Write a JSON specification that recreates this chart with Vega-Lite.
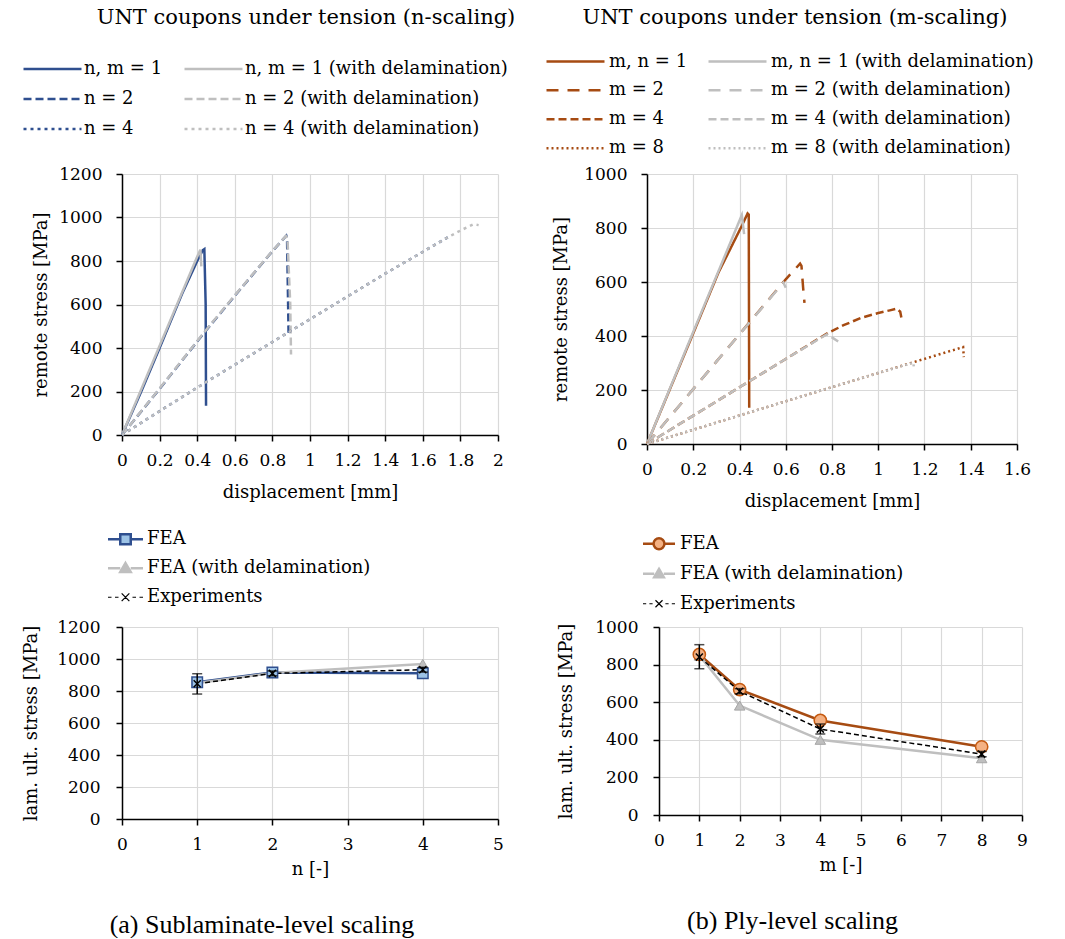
{
  "$schema": "https://vega.github.io/schema/vega-lite/v6.json",
  "padding": {"left": 22, "top": 7, "right": 5, "bottom": 0},
  "spacing": 15,
  "resolve": {"scale": {"color": "independent", "strokeDash": "independent"}, "legend": {"color": "independent", "strokeDash": "independent"}},
  "config": {
    "font": "DejaVu Serif",
    "view": {"stroke": null},
    "axis": {
      "labelFont": "DejaVu Serif", "labelFontSize": 17, "labelColor": "#000",
      "titleFont": "DejaVu Serif", "titleFontSize": 18, "titleFontWeight": "normal", "titleColor": "#000",
      "domainColor": "#000", "domainWidth": 1.5, "tickColor": "#000", "tickSize": 6, "tickWidth": 1.5,
      "gridColor": "#D9D9D9", "gridWidth": 1.2, "labelOverlap": false, "labelFlush": false
    },
    "legend": {"labelFont": "DejaVu Serif", "labelFontSize": 18, "labelColor": "#000", "labelLimit": 400},
    "title": {"font": "DejaVu Serif", "fontSize": 21, "fontWeight": "normal", "color": "#000"}
  },
  "datasets": {
    "nCurves": [
      {"series": "n, m = 1", "d": 0, "s": 0}, {"series": "n, m = 1", "d": 0.1, "s": 195}, {"series": "n, m = 1", "d": 0.2, "s": 400},
      {"series": "n, m = 1", "d": 0.32, "s": 650}, {"series": "n, m = 1", "d": 0.4, "s": 800}, {"series": "n, m = 1", "d": 0.43, "s": 850},
      {"series": "n, m = 1", "d": 0.438, "s": 855}, {"series": "n, m = 1", "d": 0.445, "s": 600}, {"series": "n, m = 1", "d": 0.447, "s": 135},
      {"series": "n, m = 1 (with delamination)", "d": 0, "s": 0}, {"series": "n, m = 1 (with delamination)", "d": 0.1, "s": 205},
      {"series": "n, m = 1 (with delamination)", "d": 0.2, "s": 410}, {"series": "n, m = 1 (with delamination)", "d": 0.3, "s": 615},
      {"series": "n, m = 1 (with delamination)", "d": 0.4, "s": 820}, {"series": "n, m = 1 (with delamination)", "d": 0.417, "s": 852},
      {"series": "n, m = 1 (with delamination)", "d": 0.422, "s": 775},
      {"series": "n = 2", "d": 0, "s": 0}, {"series": "n = 2", "d": 0.2, "s": 212}, {"series": "n = 2", "d": 0.447, "s": 481},
      {"series": "n = 2", "d": 0.6, "s": 640}, {"series": "n = 2", "d": 0.8, "s": 845}, {"series": "n = 2", "d": 0.874, "s": 916},
      {"series": "n = 2", "d": 0.878, "s": 905}, {"series": "n = 2", "d": 0.886, "s": 470},
      {"series": "n = 2 (with delamination)", "d": 0, "s": 0}, {"series": "n = 2 (with delamination)", "d": 0.2, "s": 214},
      {"series": "n = 2 (with delamination)", "d": 0.447, "s": 483}, {"series": "n = 2 (with delamination)", "d": 0.6, "s": 642},
      {"series": "n = 2 (with delamination)", "d": 0.8, "s": 846}, {"series": "n = 2 (with delamination)", "d": 0.872, "s": 915},
      {"series": "n = 2 (with delamination)", "d": 0.88, "s": 905}, {"series": "n = 2 (with delamination)", "d": 0.895, "s": 600},
      {"series": "n = 2 (with delamination)", "d": 0.899, "s": 370},
      {"series": "n = 4", "d": 0, "s": 0}, {"series": "n = 4", "d": 0.2, "s": 110}, {"series": "n = 4", "d": 0.447, "s": 243},
      {"series": "n = 4", "d": 0.887, "s": 473}, {"series": "n = 4", "d": 1.4, "s": 742}, {"series": "n = 4", "d": 1.738, "s": 911},
      {"series": "n = 4 (with delamination)", "d": 0, "s": 0}, {"series": "n = 4 (with delamination)", "d": 0.2, "s": 110},
      {"series": "n = 4 (with delamination)", "d": 0.447, "s": 243}, {"series": "n = 4 (with delamination)", "d": 0.887, "s": 473},
      {"series": "n = 4 (with delamination)", "d": 1.4, "s": 742}, {"series": "n = 4 (with delamination)", "d": 1.738, "s": 911},
      {"series": "n = 4 (with delamination)", "d": 1.8, "s": 940}, {"series": "n = 4 (with delamination)", "d": 1.87, "s": 969},
      {"series": "n = 4 (with delamination)", "d": 1.897, "s": 965}
    ],
    "mCurves": [
      {"series": "m, n = 1", "d": 0, "s": 0}, {"series": "m, n = 1", "d": 0.1, "s": 205}, {"series": "m, n = 1", "d": 0.2, "s": 410},
      {"series": "m, n = 1", "d": 0.309, "s": 635}, {"series": "m, n = 1", "d": 0.41, "s": 808}, {"series": "m, n = 1", "d": 0.435, "s": 854},
      {"series": "m, n = 1", "d": 0.44, "s": 850}, {"series": "m, n = 1", "d": 0.442, "s": 134},
      {"series": "m, n = 1 (with delamination)", "d": 0, "s": 0}, {"series": "m, n = 1 (with delamination)", "d": 0.2, "s": 415},
      {"series": "m, n = 1 (with delamination)", "d": 0.41, "s": 848}, {"series": "m, n = 1 (with delamination)", "d": 0.42, "s": 777},
      {"series": "m = 2", "d": 0, "s": 0}, {"series": "m = 2", "d": 0.3, "s": 305}, {"series": "m = 2", "d": 0.6, "s": 610},
      {"series": "m = 2", "d": 0.662, "s": 668}, {"series": "m = 2", "d": 0.668, "s": 660}, {"series": "m = 2", "d": 0.675, "s": 580},
      {"series": "m = 2", "d": 0.681, "s": 523},
      {"series": "m = 2 (with delamination)", "d": 0, "s": 0}, {"series": "m = 2 (with delamination)", "d": 0.3, "s": 305},
      {"series": "m = 2 (with delamination)", "d": 0.59, "s": 598}, {"series": "m = 2 (with delamination)", "d": 0.6, "s": 579},
      {"series": "m = 4", "d": 0, "s": 0}, {"series": "m = 4", "d": 0.2, "s": 105}, {"series": "m = 4", "d": 0.4, "s": 210},
      {"series": "m = 4", "d": 0.6, "s": 315}, {"series": "m = 4", "d": 0.784, "s": 412}, {"series": "m = 4", "d": 0.85, "s": 440},
      {"series": "m = 4", "d": 0.928, "s": 468}, {"series": "m = 4", "d": 1.0, "s": 485}, {"series": "m = 4", "d": 1.05, "s": 495},
      {"series": "m = 4", "d": 1.08, "s": 501}, {"series": "m = 4", "d": 1.095, "s": 490}, {"series": "m = 4", "d": 1.1, "s": 468},
      {"series": "m = 4 (with delamination)", "d": 0, "s": 0}, {"series": "m = 4 (with delamination)", "d": 0.2, "s": 105},
      {"series": "m = 4 (with delamination)", "d": 0.4, "s": 210}, {"series": "m = 4 (with delamination)", "d": 0.6, "s": 315},
      {"series": "m = 4 (with delamination)", "d": 0.777, "s": 406}, {"series": "m = 4 (with delamination)", "d": 0.8, "s": 395},
      {"series": "m = 4 (with delamination)", "d": 0.835, "s": 375},
      {"series": "m = 8", "d": 0, "s": 0}, {"series": "m = 8", "d": 0.5, "s": 132}, {"series": "m = 8", "d": 1.0, "s": 263},
      {"series": "m = 8", "d": 1.367, "s": 359}, {"series": "m = 8", "d": 1.37, "s": 322},
      {"series": "m = 8 (with delamination)", "d": 0, "s": 0}, {"series": "m = 8 (with delamination)", "d": 0.5, "s": 132},
      {"series": "m = 8 (with delamination)", "d": 1.0, "s": 263}, {"series": "m = 8 (with delamination)", "d": 1.151, "s": 301},
      {"series": "m = 8 (with delamination)", "d": 1.155, "s": 282}
    ],
    "nStrength": [
      {"k": 1, "series": "FEA", "v": 854}, {"k": 2, "series": "FEA", "v": 916}, {"k": 4, "series": "FEA", "v": 911},
      {"k": 1, "series": "FEA (with delamination)", "v": 850}, {"k": 2, "series": "FEA (with delamination)", "v": 912}, {"k": 4, "series": "FEA (with delamination)", "v": 969},
      {"k": 1, "series": "Experiments", "v": 845, "lo": 781, "hi": 908}, {"k": 2, "series": "Experiments", "v": 910, "lo": 895, "hi": 925},
      {"k": 4, "series": "Experiments", "v": 933, "lo": 918, "hi": 948}
    ],
    "mStrength": [
      {"k": 1, "series": "FEA", "v": 854}, {"k": 2, "series": "FEA", "v": 667}, {"k": 4, "series": "FEA", "v": 503}, {"k": 8, "series": "FEA", "v": 363},
      {"k": 1, "series": "FEA (with delamination)", "v": 848}, {"k": 2, "series": "FEA (with delamination)", "v": 582},
      {"k": 4, "series": "FEA (with delamination)", "v": 400}, {"k": 8, "series": "FEA (with delamination)", "v": 302},
      {"k": 1, "series": "Experiments", "v": 840, "lo": 778, "hi": 906}, {"k": 2, "series": "Experiments", "v": 658, "lo": 645, "hi": 672},
      {"k": 4, "series": "Experiments", "v": 457, "lo": 431, "hi": 484}, {"k": 8, "series": "Experiments", "v": 324, "lo": 310, "hi": 338}
    ]
  },
  "vconcat": [
    {
      "spacing": 29,
      "resolve": {"scale": {"color": "independent", "strokeDash": "independent"}, "legend": {"color": "independent", "strokeDash": "independent"}},
      "hconcat": [
        {
          "width": 376, "height": 261,
          "title": {"text": "UNT coupons under tension (n-scaling)", "anchor": "middle", "offset": 26, "dx": -4},
          "data": {"name": "nCurves"},
          "mark": {"type": "line", "strokeWidth": 2.5},
          "encoding": {
            "x": {"field": "d", "type": "quantitative", "scale": {"domain": [0, 2], "nice": false},
                  "axis": {"values": [0, 0.2, 0.4, 0.6, 0.8, 1, 1.2, 1.4, 1.6, 1.8, 2], "format": "~g", "title": "displacement [mm]", "labelPadding": 11, "titlePadding": 15}},
            "y": {"field": "s", "type": "quantitative", "scale": {"domain": [0, 1200], "nice": false},
                  "axis": {"values": [0, 200, 400, 600, 800, 1000, 1200], "format": "d", "title": "remote stress [MPa]", "labelPadding": 14, "titlePadding": 8}},
            "color": {"field": "series", "type": "nominal",
              "scale": {"domain": ["n, m = 1", "n = 2", "n = 4", "n, m = 1 (with delamination)", "n = 2 (with delamination)", "n = 4 (with delamination)"],
                        "range": ["#2F4F8F", "#2F4F8F", "#2F4F8F", "#BFBFBF", "#BFBFBF", "#BFBFBF"]},
              "legend": {"title": null, "orient": "none", "legendX": -100, "legendY": -120, "columns": 2, "symbolType": "stroke",
                         "symbolSize": 3364, "symbolStrokeWidth": 2.5, "clipHeight": 30, "rowPadding": 0, "columnPadding": 20, "labelOffset": 1}},
            "strokeDash": {"field": "series", "type": "nominal",
              "scale": {"domain": ["n, m = 1", "n = 2", "n = 4", "n, m = 1 (with delamination)", "n = 2 (with delamination)", "n = 4 (with delamination)"],
                        "range": [[1, 0], [8, 4], [3, 4], [1, 0], [8, 4], [3, 4]]},
              "legend": {"title": null, "orient": "none", "legendX": -100, "legendY": -120, "columns": 2, "symbolType": "stroke",
                         "symbolSize": 3364, "symbolStrokeWidth": 2.5, "clipHeight": 30, "rowPadding": 0, "columnPadding": 20, "labelOffset": 1}}
          }
        },
        {
          "width": 370, "height": 270,
          "title": {"text": "UNT coupons under tension (m-scaling)", "anchor": "middle", "offset": 19, "dx": -37},
          "data": {"name": "mCurves"},
          "mark": {"type": "line", "strokeWidth": 2.5},
          "encoding": {
            "x": {"field": "d", "type": "quantitative", "scale": {"domain": [0, 1.6], "nice": false},
                  "axis": {"values": [0, 0.2, 0.4, 0.6, 0.8, 1, 1.2, 1.4, 1.6], "format": "~g", "title": "displacement [mm]", "labelPadding": 11, "titlePadding": 15}},
            "y": {"field": "s", "type": "quantitative", "scale": {"domain": [0, 1000], "nice": false},
                  "axis": {"values": [0, 200, 400, 600, 800, 1000], "format": "d", "title": "remote stress [MPa]", "labelPadding": 14, "titlePadding": 13}},
            "color": {"field": "series", "type": "nominal",
              "scale": {"domain": ["m, n = 1", "m = 2", "m = 4", "m = 8", "m, n = 1 (with delamination)", "m = 2 (with delamination)", "m = 4 (with delamination)", "m = 8 (with delamination)"],
                        "range": ["#A64B12", "#A64B12", "#A64B12", "#A64B12", "#BFBFBF", "#BFBFBF", "#BFBFBF", "#BFBFBF"]},
              "legend": {"title": null, "orient": "none", "legendX": -102, "legendY": -127, "columns": 2, "symbolType": "stroke",
                         "symbolSize": 3364, "symbolStrokeWidth": 2.5, "clipHeight": 28.5, "rowPadding": 0, "columnPadding": 19, "labelOffset": 3}},
            "strokeDash": {"field": "series", "type": "nominal",
              "scale": {"domain": ["m, n = 1", "m = 2", "m = 4", "m = 8", "m, n = 1 (with delamination)", "m = 2 (with delamination)", "m = 4 (with delamination)", "m = 8 (with delamination)"],
                        "range": [[1, 0], [12, 9], [8, 4], [2, 3], [1, 0], [12, 9], [8, 4], [2, 3]]},
              "legend": {"title": null, "orient": "none", "legendX": -102, "legendY": -127, "columns": 2, "symbolType": "stroke",
                         "symbolSize": 3364, "symbolStrokeWidth": 2.5, "clipHeight": 28.5, "rowPadding": 0, "columnPadding": 19, "labelOffset": 3}}
          }
        }
      ]
    },
    {
      "spacing": 53,
      "resolve": {"scale": {"color": "independent"}, "legend": {"color": "independent"}},
      "hconcat": [
        {
          "width": 376, "height": 192,
          "title": {"text": "(a) Sublaminate-level scaling", "orient": "bottom", "anchor": "middle", "font": "Liberation Serif", "fontSize": 26, "offset": 34, "dx": -48},
          "data": {"name": "nStrength"},
          "layer": [
            {
              "transform": [{"filter": "datum.series !== 'Experiments'"}],
              "mark": {"type": "line", "strokeWidth": 2.5},
              "encoding": {
                "x": {"field": "k", "type": "quantitative", "scale": {"domain": [0, 5], "nice": false}, "axis": {"values": [0, 1, 2, 3, 4, 5], "format": "d", "title": "n [-]", "labelPadding": 11, "titlePadding": 8}},
                "y": {"field": "v", "type": "quantitative", "scale": {"domain": [0, 1200], "nice": false}, "axis": {"values": [0, 200, 400, 600, 800, 1000, 1200], "format": "d", "title": "lam. ult. stress [MPa]", "labelPadding": 16, "titlePadding": 16}},
                "color": {"field": "series", "type": "nominal",
                  "scale": {"domain": ["FEA", "FEA (with delamination)", "Experiments"], "range": ["#2F4F8F", "#BFBFBF", "#000000"]},
                  "legend": {"title": null, "orient": "none", "legendX": -14, "legendY": -102, "symbolSize": 1225, "symbolStrokeWidth": 2.5, "clipHeight": 28.5, "rowPadding": 0, "labelOffset": 4,
                    "encode": {
                      "symbols": {"update": {
                        "x": {"value": 17.5}, "size": {"value": 1225},
                        "shape": {"signal": "datum.value === 'FEA' ? 'M-1,0H-0.3M0.3,0H1M-0.3,-0.28H0.3V0.28H-0.3Z' : datum.value === 'Experiments' ? 'M-1,0H-0.8M-0.6,0H-0.4M-0.22,-0.22L0.22,0.22M0.22,-0.22L-0.22,0.22M0.4,0H0.6M0.8,0H1' : 'M-1,0H-0.3M0.3,0H1M0,-0.3L0.3,0.22H-0.3Z'"},
                        "fill": {"signal": "datum.value === 'FEA' ? '#9DC3E6' : datum.value === 'Experiments' ? 'transparent' : '#BFBFBF'"},
                        "strokeWidth": {"signal": "datum.value === 'Experiments' ? 1.2 : 2.5"}
                      }},
                      "labels": {"update": {"x": {"value": 39}}}
                    }}}
              }
            },
            {
              "transform": [{"filter": "datum.series === 'Experiments'"}],
              "mark": {"type": "line", "color": "#000", "strokeWidth": 1.5, "strokeDash": [5, 3]},
              "encoding": {"x": {"field": "k", "type": "quantitative", "axis": {"values": [0, 1, 2, 3, 4, 5], "format": "d", "title": "n [-]", "labelPadding": 11, "titlePadding": 8}},
                           "y": {"field": "v", "type": "quantitative", "axis": {"values": [0, 200, 400, 600, 800, 1000, 1200], "format": "d", "title": "lam. ult. stress [MPa]", "labelPadding": 16, "titlePadding": 16}}}
            },
            {
              "transform": [{"filter": "datum.series === 'FEA (with delamination)'"}],
              "mark": {"type": "point", "shape": "triangle-up", "filled": true, "fill": "#BFBFBF", "stroke": "#A6A6A6", "strokeWidth": 1, "size": 110, "opacity": 1},
              "encoding": {"x": {"field": "k", "type": "quantitative", "axis": {"values": [0, 1, 2, 3, 4, 5], "format": "d", "title": "n [-]", "labelPadding": 11, "titlePadding": 8}},
                           "y": {"field": "v", "type": "quantitative", "axis": {"values": [0, 200, 400, 600, 800, 1000, 1200], "format": "d", "title": "lam. ult. stress [MPa]", "labelPadding": 16, "titlePadding": 16}}}
            },
            {
              "transform": [{"filter": "datum.series === 'FEA'"}],
              "mark": {"type": "point", "shape": "square", "filled": true, "fill": "#9DC3E6", "stroke": "#2F4F8F", "strokeWidth": 1.5, "size": 110, "opacity": 1},
              "encoding": {"x": {"field": "k", "type": "quantitative", "axis": {"values": [0, 1, 2, 3, 4, 5], "format": "d", "title": "n [-]", "labelPadding": 11, "titlePadding": 8}},
                           "y": {"field": "v", "type": "quantitative", "axis": {"values": [0, 200, 400, 600, 800, 1000, 1200], "format": "d", "title": "lam. ult. stress [MPa]", "labelPadding": 16, "titlePadding": 16}}}
            },
            {
              "transform": [{"filter": "datum.series === 'Experiments'"}],
              "mark": {"type": "errorbar", "ticks": {"size": 10}, "color": "#000", "thickness": 1.5},
              "encoding": {"x": {"field": "k", "type": "quantitative", "axis": {"values": [0, 1, 2, 3, 4, 5], "format": "d", "title": "n [-]", "labelPadding": 11, "titlePadding": 8}},
                           "y": {"field": "lo", "type": "quantitative", "axis": {"values": [0, 200, 400, 600, 800, 1000, 1200], "format": "d", "title": "lam. ult. stress [MPa]", "labelPadding": 16, "titlePadding": 16}}, "y2": {"field": "hi"}}
            },
            {
              "transform": [{"filter": "datum.series === 'Experiments'"}],
              "mark": {"type": "point", "shape": "M-1,-1L1,1M-1,1L1,-1", "filled": false, "stroke": "#000", "strokeWidth": 1.5, "size": 50, "opacity": 1},
              "encoding": {"x": {"field": "k", "type": "quantitative", "axis": {"values": [0, 1, 2, 3, 4, 5], "format": "d", "title": "n [-]", "labelPadding": 11, "titlePadding": 8}},
                           "y": {"field": "v", "type": "quantitative", "axis": {"values": [0, 200, 400, 600, 800, 1000, 1200], "format": "d", "title": "lam. ult. stress [MPa]", "labelPadding": 16, "titlePadding": 16}}}
            }
          ]
        },
        {
          "width": 363, "height": 188,
          "title": {"text": "(b) Ply-level scaling", "orient": "bottom", "anchor": "middle", "font": "Liberation Serif", "fontSize": 26, "offset": 34, "dx": -48},
          "data": {"name": "mStrength"},
          "layer": [
            {
              "transform": [{"filter": "datum.series !== 'Experiments'"}],
              "mark": {"type": "line", "strokeWidth": 2.5},
              "encoding": {
                "x": {"field": "k", "type": "quantitative", "scale": {"domain": [0, 9], "nice": false}, "axis": {"values": [0, 1, 2, 3, 4, 5, 6, 7, 8, 9], "format": "d", "title": "m [-]", "labelPadding": 11, "titlePadding": 8}},
                "y": {"field": "v", "type": "quantitative", "scale": {"domain": [0, 1000], "nice": false}, "axis": {"values": [0, 200, 400, 600, 800, 1000], "format": "d", "title": "lam. ult. stress [MPa]", "labelPadding": 15, "titlePadding": 19}},
                "color": {"field": "series", "type": "nominal",
                  "scale": {"domain": ["FEA", "FEA (with delamination)", "Experiments"], "range": ["#A64B12", "#BFBFBF", "#000000"]},
                  "legend": {"title": null, "orient": "none", "legendX": -16, "legendY": -98, "symbolSize": 1024, "symbolStrokeWidth": 2.5, "clipHeight": 29.5, "rowPadding": 0, "labelOffset": 5,
                    "encode": {
                      "symbols": {"update": {
                        "x": {"value": 16}, "size": {"value": 1024},
                        "shape": {"signal": "datum.value === 'FEA' ? 'M-1,0H-0.34M0.34,0H1M-0.34,0A0.34,0.34,0,1,0,0.34,0A0.34,0.34,0,1,0,-0.34,0Z' : datum.value === 'Experiments' ? 'M-1,0H-0.8M-0.6,0H-0.4M-0.22,-0.22L0.22,0.22M0.22,-0.22L-0.22,0.22M0.4,0H0.6M0.8,0H1' : 'M-1,0H-0.3M0.3,0H1M0,-0.3L0.3,0.22H-0.3Z'"},
                        "fill": {"signal": "datum.value === 'FEA' ? '#F4B183' : datum.value === 'Experiments' ? 'transparent' : '#BFBFBF'"},
                        "strokeWidth": {"signal": "datum.value === 'Experiments' ? 1.2 : 2.5"}
                      }},
                      "labels": {"update": {"x": {"value": 37}}}
                    }}}
              }
            },
            {
              "transform": [{"filter": "datum.series === 'Experiments'"}],
              "mark": {"type": "line", "color": "#000", "strokeWidth": 1.5, "strokeDash": [5, 3]},
              "encoding": {"x": {"field": "k", "type": "quantitative", "axis": {"values": [0, 1, 2, 3, 4, 5, 6, 7, 8, 9], "format": "d", "title": "m [-]", "labelPadding": 11, "titlePadding": 8}},
                           "y": {"field": "v", "type": "quantitative", "axis": {"values": [0, 200, 400, 600, 800, 1000], "format": "d", "title": "lam. ult. stress [MPa]", "labelPadding": 15, "titlePadding": 19}}}
            },
            {
              "transform": [{"filter": "datum.series === 'FEA (with delamination)'"}],
              "mark": {"type": "point", "shape": "triangle-up", "filled": true, "fill": "#BFBFBF", "stroke": "#A6A6A6", "strokeWidth": 1, "size": 110, "opacity": 1},
              "encoding": {"x": {"field": "k", "type": "quantitative", "axis": {"values": [0, 1, 2, 3, 4, 5, 6, 7, 8, 9], "format": "d", "title": "m [-]", "labelPadding": 11, "titlePadding": 8}},
                           "y": {"field": "v", "type": "quantitative", "axis": {"values": [0, 200, 400, 600, 800, 1000], "format": "d", "title": "lam. ult. stress [MPa]", "labelPadding": 15, "titlePadding": 19}}}
            },
            {
              "transform": [{"filter": "datum.series === 'FEA'"}],
              "mark": {"type": "point", "shape": "circle", "filled": true, "fill": "#F4B183", "stroke": "#C55A11", "strokeWidth": 1.5, "size": 150, "opacity": 1},
              "encoding": {"x": {"field": "k", "type": "quantitative", "axis": {"values": [0, 1, 2, 3, 4, 5, 6, 7, 8, 9], "format": "d", "title": "m [-]", "labelPadding": 11, "titlePadding": 8}},
                           "y": {"field": "v", "type": "quantitative", "axis": {"values": [0, 200, 400, 600, 800, 1000], "format": "d", "title": "lam. ult. stress [MPa]", "labelPadding": 15, "titlePadding": 19}}}
            },
            {
              "transform": [{"filter": "datum.series === 'Experiments'"}],
              "mark": {"type": "errorbar", "ticks": {"size": 10}, "color": "#000", "thickness": 1.5},
              "encoding": {"x": {"field": "k", "type": "quantitative", "axis": {"values": [0, 1, 2, 3, 4, 5, 6, 7, 8, 9], "format": "d", "title": "m [-]", "labelPadding": 11, "titlePadding": 8}},
                           "y": {"field": "lo", "type": "quantitative", "axis": {"values": [0, 200, 400, 600, 800, 1000], "format": "d", "title": "lam. ult. stress [MPa]", "labelPadding": 15, "titlePadding": 19}}, "y2": {"field": "hi"}}
            },
            {
              "transform": [{"filter": "datum.series === 'Experiments'"}],
              "mark": {"type": "point", "shape": "M-1,-1L1,1M-1,1L1,-1", "filled": false, "stroke": "#000", "strokeWidth": 1.5, "size": 50, "opacity": 1},
              "encoding": {"x": {"field": "k", "type": "quantitative", "axis": {"values": [0, 1, 2, 3, 4, 5, 6, 7, 8, 9], "format": "d", "title": "m [-]", "labelPadding": 11, "titlePadding": 8}},
                           "y": {"field": "v", "type": "quantitative", "axis": {"values": [0, 200, 400, 600, 800, 1000], "format": "d", "title": "lam. ult. stress [MPa]", "labelPadding": 15, "titlePadding": 19}}}
            }
          ]
        }
      ]
    }
  ]
}
